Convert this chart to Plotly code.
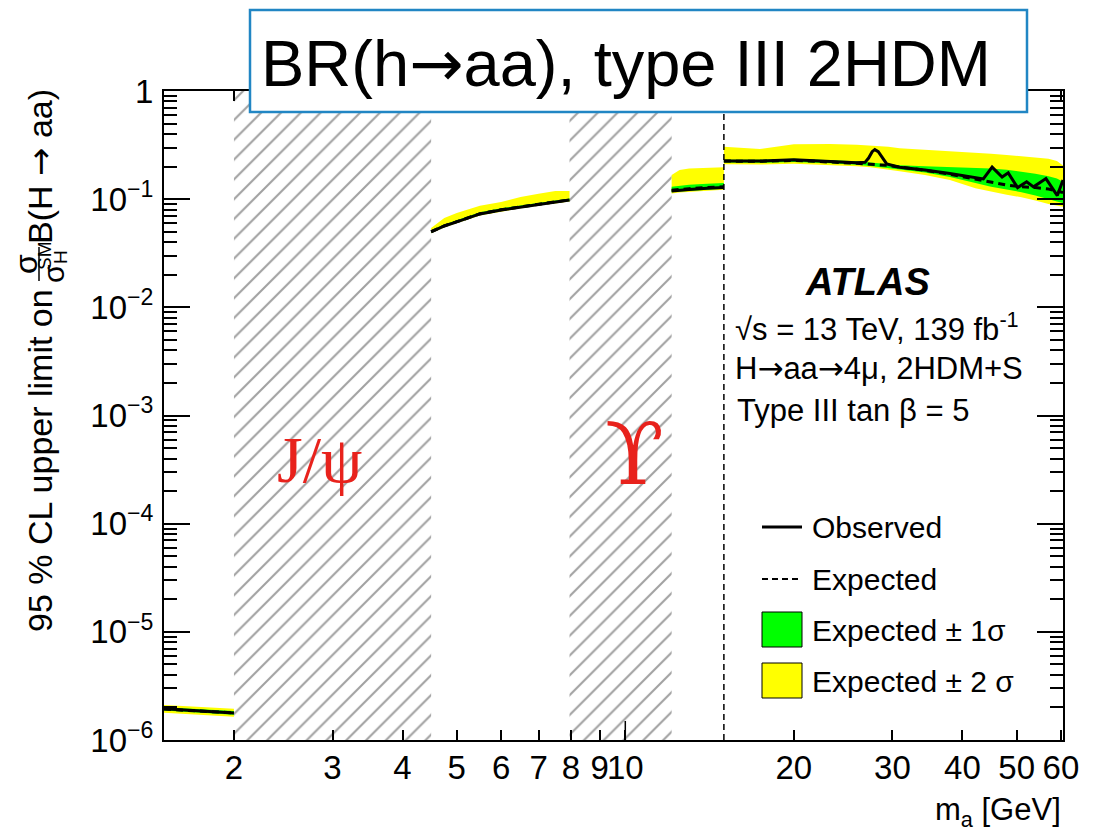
import math
import plotly.graph_objects as go

# ---------------- data ----------------
jpsi_window = [2.0, 4.5]
upsilon_window = [7.95, 12.1]
boundary_mass = 15.0

# segment 1 : 1.5 - 2 GeV
seg1_x = [1.5, 2.0]
seg1_obs = [1.94e-6, 1.78e-6]
seg1_exp = [1.93e-6, 1.78e-6]
seg1_g_hi = [2.01e-6, 1.85e-6]
seg1_g_lo = [1.87e-6, 1.71e-6]
seg1_y_hi = [2.11e-6, 1.94e-6]
seg1_y_lo = [1.79e-6, 1.64e-6]

# segment 2 : 4.5 - 8 GeV
seg2_x = [4.5, 4.75, 5.0, 5.5, 6.0, 6.5, 7.0, 7.5, 7.95]
seg2_obs = [0.0498, 0.0565, 0.0616, 0.0730, 0.0795, 0.0847, 0.0903, 0.0942, 0.0983]
seg2_exp = [0.0500, 0.0567, 0.0619, 0.0733, 0.0798, 0.0850, 0.0906, 0.0945, 0.0986]
seg2_g_hi = [0.0515, 0.0584, 0.0637, 0.0755, 0.0822, 0.0876, 0.0934, 0.0974, 0.1016]
seg2_g_lo = [0.0488, 0.0554, 0.0604, 0.0715, 0.0779, 0.0830, 0.0885, 0.0923, 0.0963]
seg2_y_hi = [0.0541, 0.0670, 0.0744, 0.0867, 0.0940, 0.1048, 0.1120, 0.1190, 0.1190]
seg2_y_lo = [0.0483, 0.0548, 0.0598, 0.0708, 0.0771, 0.0822, 0.0876, 0.0914, 0.0954]

# segment 3 : 12 - 15 GeV
seg3_x = [12.1, 12.5, 13.0, 14.0, 15.0]
seg3_obs = [0.119, 0.121, 0.123, 0.126, 0.128]
seg3_exp = [0.121, 0.123, 0.125, 0.128, 0.130]
seg3_g_hi = [0.130, 0.133, 0.136, 0.139, 0.141]
seg3_g_lo = [0.116, 0.118, 0.120, 0.123, 0.125]
seg3_y_hi = [0.167, 0.186, 0.192, 0.195, 0.197]
seg3_y_lo = [0.113, 0.115, 0.117, 0.120, 0.122]

# segment 4 : 15 - 60 GeV
seg4_x = [15.0, 17.4, 20.0, 23.2, 25.9, 27.4, 29.5, 30.9, 34.3, 38.0,
          42.2, 45.0, 48.0, 51.0, 54.0, 57.0, 59.0, 60.5]
seg4_exp = [0.225, 0.224, 0.228, 0.222, 0.215, 0.210, 0.205, 0.198, 0.185, 0.170,
            0.153, 0.142, 0.135, 0.130, 0.128, 0.124, 0.118, 0.115]
seg4_y_hi = [0.306, 0.291, 0.322, 0.324, 0.318, 0.312, 0.305, 0.295, 0.287, 0.279,
             0.270, 0.263, 0.256, 0.249, 0.243, 0.236, 0.225, 0.205]
seg4_g_hi = [0.232, 0.231, 0.236, 0.230, 0.224, 0.218, 0.212, 0.206, 0.202, 0.198,
             0.196, 0.192, 0.187, 0.180, 0.172, 0.163, 0.155, 0.145]
seg4_g_lo = [0.218, 0.217, 0.221, 0.215, 0.208, 0.203, 0.195, 0.188, 0.176, 0.160,
             0.141, 0.130, 0.123, 0.116, 0.108, 0.100, 0.095, 0.092]
seg4_y_lo = [0.210, 0.209, 0.213, 0.207, 0.201, 0.197, 0.188, 0.181, 0.167, 0.150,
             0.126, 0.117, 0.110, 0.104, 0.097, 0.090, 0.087, 0.085]
seg4_x_obs = [15.0, 17.4, 20.0, 23.2, 25.9, 26.8, 27.2, 27.6, 27.9, 28.3, 28.8, 29.3,
              30.9, 34.3, 38.0, 42.2, 43.6, 45.2, 47.1, 48.3, 50.2, 52.1, 53.6, 56.4,
              59.1, 60.5]
seg4_obs = [0.225, 0.225, 0.232, 0.225, 0.217, 0.219, 0.240, 0.275, 0.287, 0.275, 0.240, 0.212,
            0.197, 0.186, 0.173, 0.157, 0.154, 0.198, 0.160, 0.175, 0.128, 0.145, 0.130, 0.155,
            0.108, 0.150]

segments = [
    (seg1_x, seg1_x, seg1_obs, seg1_exp, seg1_g_lo, seg1_g_hi, seg1_y_lo, seg1_y_hi),
    (seg2_x, seg2_x, seg2_obs, seg2_exp, seg2_g_lo, seg2_g_hi, seg2_y_lo, seg2_y_hi),
    (seg3_x, seg3_x, seg3_obs, seg3_exp, seg3_g_lo, seg3_g_hi, seg3_y_lo, seg3_y_hi),
    (seg4_x, seg4_x_obs, seg4_obs, seg4_exp, seg4_g_lo, seg4_g_hi, seg4_y_lo, seg4_y_hi),
]

x_tick_vals = [2, 3, 4, 5, 6, 7, 8, 9, 10, 20, 30, 40, 50, 60]
x_tick_text = ["2", "3", "4", "5", "6", "7", "8", "9", "10", "20", "30", "40", "50", "60"]
y_tick_vals = [1e-6, 1e-5, 1e-4, 1e-3, 1e-2, 1e-1, 1]
y_tick_text = ["10<sup>−6</sup>", "10<sup>−5</sup>", "10<sup>−4</sup>", "10<sup>−3</sup>",
               "10<sup>−2</sup>", "10<sup>−1</sup>", "1"]

x_min, x_max = 1.5, 60.5
y_min, y_max = 1e-6, 1.0

# ---------------- layout geometry ----------------
W, H = 1102, 835
L, R, T, B = 164, 39, 91, 95
PW, PH = W - L - R, H - T - B
FONT = "Liberation Sans, Arial, Helvetica, sans-serif"
YELLOW = "#ffff00"
GREEN = "#00ff00"
ARROW = '<span style="font-family:DejaVu Sans">→</span>'


def pxx(x):
    return (x - L) / PW


def pxy(y):
    return (H - B - y) / PH


fig = go.Figure()

# hatched excluded regions
for lo, hi in (jpsi_window, upsilon_window):
    fig.add_trace(go.Scatter(
        x=[lo, hi, hi, lo, lo], y=[y_min, y_min, y_max, y_max, y_min],
        mode="lines", line=dict(width=0, color="rgba(0,0,0,0)"),
        fill="toself", fillcolor="rgba(0,0,0,0)",
        fillpattern=dict(shape="/", fgcolor="#444444", bgcolor="rgba(0,0,0,0)",
                         size=14, solidity=0.15),
        hoverinfo="skip", showlegend=False))

# bands
for xb, xo, obs, exp, glo, ghi, ylo, yhi in segments:
    fig.add_trace(go.Scatter(
        x=list(xb) + list(xb)[::-1], y=list(yhi) + list(ylo)[::-1],
        mode="lines", line=dict(width=0), fill="toself", fillcolor=YELLOW,
        hoverinfo="skip", showlegend=False))
    fig.add_trace(go.Scatter(
        x=list(xb) + list(xb)[::-1], y=list(ghi) + list(glo)[::-1],
        mode="lines", line=dict(width=0), fill="toself", fillcolor=GREEN,
        hoverinfo="skip", showlegend=False))

for xb, xo, obs, exp, glo, ghi, ylo, yhi in segments:
    fig.add_trace(go.Scatter(x=xb, y=exp, mode="lines",
                             line=dict(color="black", width=3, dash="7px,5px"),
                             showlegend=False))
    fig.add_trace(go.Scatter(x=xo, y=obs, mode="lines",
                             line=dict(color="black", width=3),
                             showlegend=False))

# vertical dashed line at the boundary
fig.add_trace(go.Scatter(x=[boundary_mass, boundary_mass], y=[y_min, y_max], mode="lines",
                         line=dict(color="black", width=1.5, dash="6px,4px"),
                         showlegend=False))

axis_common = dict(showline=True, linecolor="black", linewidth=2, mirror="allticks",
                   ticks="inside", tickcolor="black", showgrid=False, zeroline=False,
                   tickfont=dict(family=FONT, size=33, color="black"))

minor_y = [m * 10 ** e for e in range(-6, 0) for m in range(2, 10)]

fig.update_layout(
    width=W, height=H, margin=dict(l=L, r=R, t=T, b=B, pad=0),
    paper_bgcolor="white", plot_bgcolor="white",
    xaxis=dict(type="log", range=[math.log10(x_min), math.log10(x_max)],
               tickmode="array", tickvals=x_tick_vals, ticktext=x_tick_text,
               tickangle=0, ticklen=10, tickwidth=1.5, ticklabelstandoff=-3,
               **axis_common),
    yaxis=dict(type="log", range=[math.log10(y_min), math.log10(y_max)],
               tickmode="array", tickvals=y_tick_vals, ticktext=y_tick_text,
               ticklen=26, tickwidth=1.5, tickangle=0, ticklabelstandoff=2,
               minor=dict(tickmode="array", tickvals=minor_y, ticks="inside",
                          ticklen=13, tickwidth=1.5, tickcolor="black", showgrid=False),
               **axis_common),
    showlegend=False,
)

shapes = []
# longer tick at 10
x10 = (1 - math.log10(x_min)) / (math.log10(x_max) - math.log10(x_min))
shapes.append(dict(type="line", xref="paper", yref="paper", x0=x10, x1=x10,
                   y0=0, y1=19 / PH, line=dict(color="black", width=1.5)))
shapes.append(dict(type="line", xref="paper", yref="paper", x0=x10, x1=x10,
                   y0=1, y1=1 - 19 / PH, line=dict(color="black", width=1.5)))
# title box
shapes.append(dict(type="rect", xref="paper", yref="paper", layer="above",
                   x0=pxx(250), x1=pxx(1027), y0=pxy(112), y1=pxy(10),
                   fillcolor="white", line=dict(color="#2186c4", width=2.5)))
# legend symbols
shapes.append(dict(type="line", xref="paper", yref="paper", layer="above",
                   x0=pxx(762), x1=pxx(802), y0=pxy(527), y1=pxy(527),
                   line=dict(color="black", width=3)))
shapes.append(dict(type="line", xref="paper", yref="paper", layer="above",
                   x0=pxx(762), x1=pxx(802), y0=pxy(579), y1=pxy(579),
                   line=dict(color="black", width=2, dash="6px,4px")))
shapes.append(dict(type="rect", xref="paper", yref="paper", layer="above",
                   x0=pxx(762), x1=pxx(802), y0=pxy(647), y1=pxy(612),
                   fillcolor=GREEN, line=dict(color="black", width=1)))
shapes.append(dict(type="rect", xref="paper", yref="paper", layer="above",
                   x0=pxx(762), x1=pxx(802), y0=pxy(698), y1=pxy(663),
                   fillcolor=YELLOW, line=dict(color="black", width=1)))
# fraction bar in the y title
shapes.append(dict(type="line", xref="paper", yref="paper",
                   x0=pxx(39), x1=pxx(39), y0=pxy(281), y1=pxy(247),
                   line=dict(color="black", width=1.5)))
fig.update_layout(shapes=shapes)


def ann(text, x, y, size, xanchor="center", family=FONT, color="black", angle=0):
    fig.add_annotation(text=text, xref="paper", yref="paper", x=pxx(x), y=pxy(y),
                       xanchor=xanchor, yanchor="middle", showarrow=False,
                       textangle=angle, font=dict(family=family, size=size, color=color))


ann(f"BR(h{ARROW}aa), type III 2HDM", 626, 64, 65)
ann("<b><i>ATLAS</i></b>", 867, 282, 38)
ann("√s = 13 TeV, 139 fb<sup>-1</sup>", 733, 327, 31, xanchor="left")
ann(f"H{ARROW}aa{ARROW}4μ, 2HDM+S", 733, 368, 31, xanchor="left")
ann("Type III tan β = 5", 735, 410, 31, xanchor="left")
ann("Observed", 810, 527, 30, xanchor="left")
ann("Expected", 810, 579, 30, xanchor="left")
ann("Expected ± 1σ", 810, 630, 30, xanchor="left")
ann("Expected ± 2 σ", 810, 681, 30, xanchor="left")
ann("J/ψ", 319, 459, 66, family="Liberation Serif, Times New Roman, serif", color="#e8221c")
ann("ϒ", 634, 454, 86, family="DejaVu Serif, serif", color="#e8221c")
ann("m<sub>a</sub> [GeV]", 1063, 812, 31, xanchor="right")
# y-axis title pieces
ann("95 % CL upper limit on", 40, 461, 34, angle=-90)
ann("σ", 26, 264, 32, angle=-90)
ann("σ", 53, 274, 30, angle=-90)
ann("SM", 44, 256, 19, angle=-90)
ann("H", 60, 257, 19, angle=-90)
ann(f"B(H {ARROW} aa)", 40, 167, 34, angle=-90)

fig.write_html("out.html")
